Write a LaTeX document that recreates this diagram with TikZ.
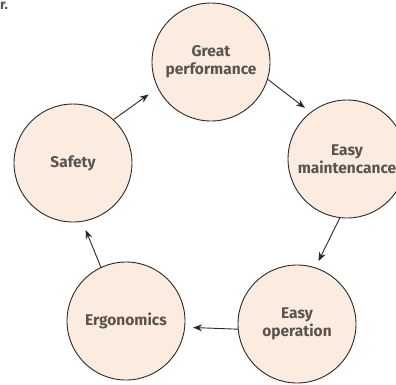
\documentclass[tikz,border=0pt]{standalone}
\usepackage{fontspec}
\setmainfont{Fira Sans}
\usetikzlibrary{arrows.meta}
\definecolor{fillc}{HTML}{FCEBDF}
\definecolor{txtc}{HTML}{58544F}
\definecolor{linec}{HTML}{2A2A2A}
\begin{document}
\begin{tikzpicture}[x=1pt,y=-1pt,
  bubble/.style={circle,draw=linec,line width=0.9pt,fill=fillc,minimum size=118pt,inner sep=0pt,
    font=\fontsize{15.5}{18}\selectfont\bfseries,text=txtc,align=center},
  flow/.style={->,>={Stealth[length=9pt,width=7pt]},line width=0.9pt,draw=linec}]
\useasboundingbox (0,0) rectangle (396,384);
\node[anchor=north west,inner sep=0pt,font=\fontsize{14}{16}\selectfont\bfseries,text=txtc] (lbl) at (0,2) {r.};
\node[bubble] (gp) at (211,62) {Great\\performance};
\node[bubble] (em) at (347,159) {Easy\\maintencance};
\node[bubble] (eo) at (297,324) {Easy\\operation};
\node[bubble] (er) at (126,321) {Ergonomics};
\node[bubble] (sa) at (73,163) {Safety};
\draw[flow,shorten >=11pt] (sa.47) -- (gp.206);
\draw[flow,shorten >=7pt] (gp.-17) -- (em.128);
\draw[flow,shorten >=7pt] (em.263) -- (eo.72);
\draw[flow,shorten >=8pt] (eo.185) -- (er.-6);
\draw[flow,shorten >=9pt] (er.115) -- (sa.-81);
\end{tikzpicture}
\end{document}
